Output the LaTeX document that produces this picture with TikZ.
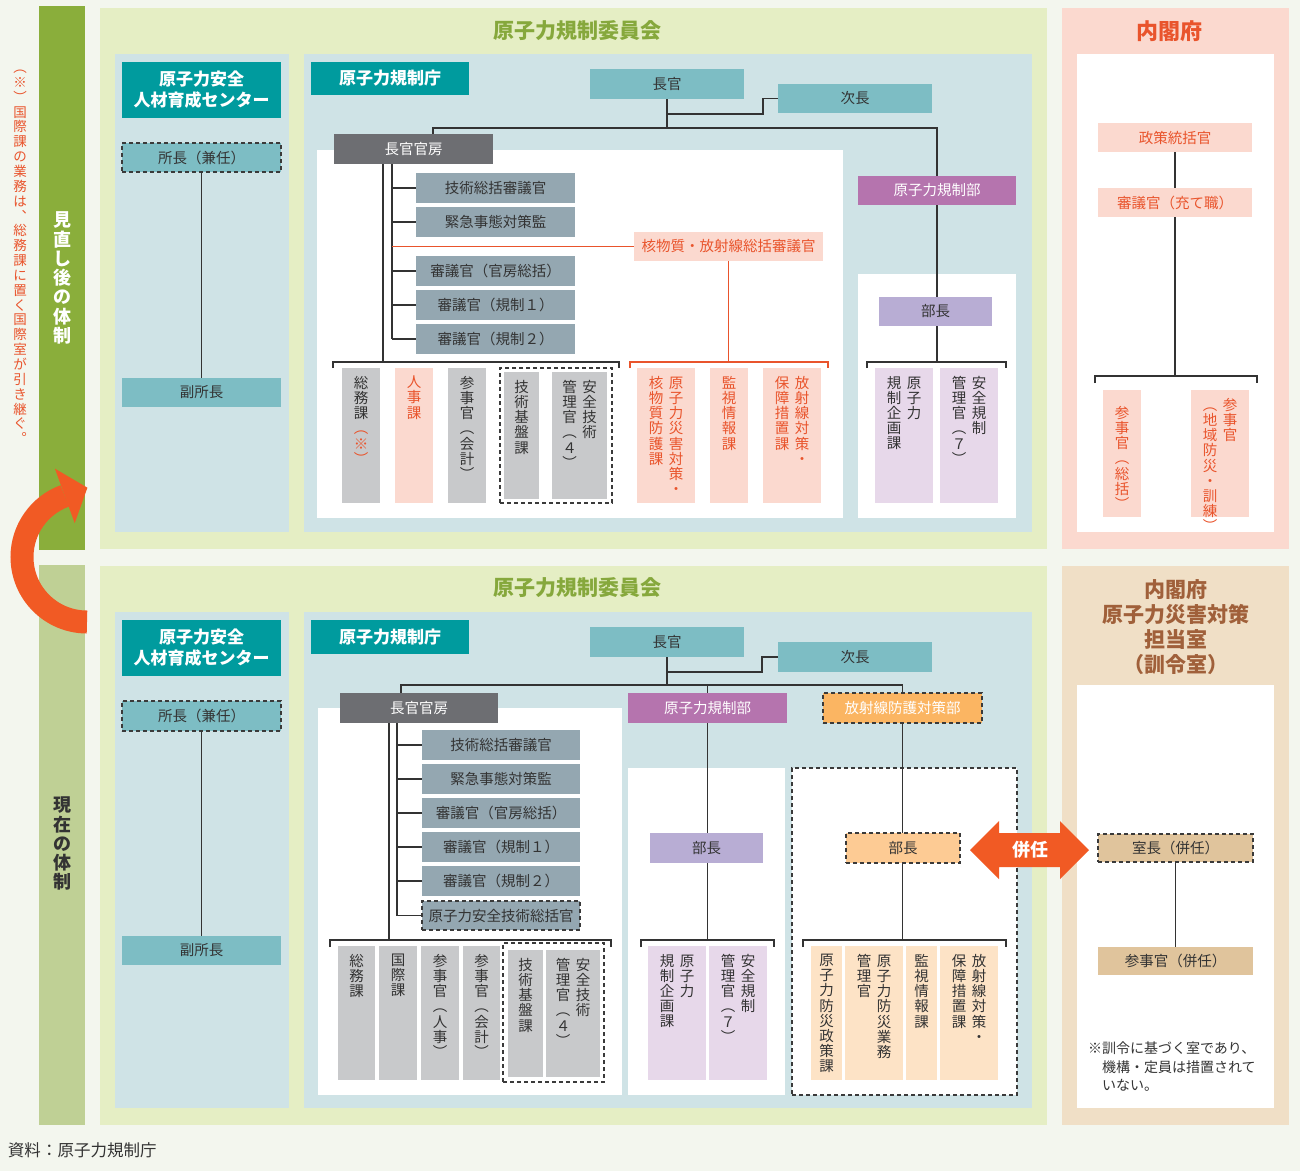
\documentclass[tikz,border=0pt]{standalone}
\usepackage{fontspec}
\setmainfont{Noto Sans CJK JP}
\usetikzlibrary{arrows.meta,calc}
\definecolor{cBg}{HTML}{F3F6EE}
\definecolor{cBarG}{HTML}{8AAE3B}
\definecolor{cBarL}{HTML}{BFD095}
\definecolor{cPanG}{HTML}{E5EEC4}
\definecolor{cPanB}{HTML}{CFE3E6}
\definecolor{cTeal}{HTML}{009B9E}
\definecolor{cTealL}{HTML}{7DBDC4}
\definecolor{cGblue}{HTML}{94A7B1}
\definecolor{cDgrey}{HTML}{6D6E72}
\definecolor{cLgrey}{HTML}{C8C9CB}
\definecolor{cPink}{HTML}{FBD9CF}
\definecolor{cRed}{HTML}{E9542C}
\definecolor{cPurp}{HTML}{B574AE}
\definecolor{cLav}{HTML}{B8ADD4}
\definecolor{cLpurp}{HTML}{E7D8EA}
\definecolor{cOrng}{HTML}{FBB562}
\definecolor{cLorng}{HTML}{FDCB94}
\definecolor{cPeach}{HTML}{FDE3C6}
\definecolor{cBeige}{HTML}{F0DFC6}
\definecolor{cTan}{HTML}{E0C49C}
\definecolor{cBrown}{HTML}{A0603A}
\definecolor{cTitleG}{HTML}{86A83C}
\definecolor{cTxt}{HTML}{333333}
\definecolor{cLn}{HTML}{333333}
\definecolor{cDash}{HTML}{3A3A3A}
\definecolor{cArr}{HTML}{F15A24}
\newcommand\fsz[1]{\fontsize{#1}{#1}\selectfont}
\def\vtred{}
\def\vtpre{}
\def\vtloop#1{\ifx#1\relax\else\ifx#1\vtred\gdef\vtpre{\color{cRed}}\else\hbox to 1em{\hss\vtpre#1\hss}\fi\expandafter\vtloop\fi}
\newcommand\vcol[2][1.05]{\vtop{\gdef\vtpre{}\baselineskip=#1em\lineskiplimit=-100pt\lineskip=0pt\vtloop#2\relax}}
\newcommand\vtwo[2]{\hbox{\vcol{#2}\kern5.5pt\vcol{#1}}}
\tikzset{
  R/.style={inner sep=0pt, outer sep=0pt},
  rc/.style n args={4}{minimum width={#3-#1}, minimum height={#4-#2}, at={({(#1+#3)/2},{(#2+#4)/2})}},
  hb/.style={R, text=cTxt, font=\fsz{14.5}},
  dsh/.style={draw=cDash, line width=1.3pt, dash pattern=on 4pt off 3pt},
  ln/.style={draw=cLn, line width=1.4pt},
  lnr/.style={draw=cRed, line width=1.4pt},
}
\newcommand\vb[8]{\node[R, fill=#2, rc={#4}{#5}{#6}{#7}] (#1) {};
  \node[R, anchor=north, text=#3, font=\fsz{14.5}] (#1t) at ([yshift=-8pt]#1.north) {#8};}
\begin{document}
\begin{tikzpicture}[x=1pt,y=-1pt]
\fill[cBg] (0,0) rectangle (1300,1171);
\useasboundingbox (0,0) rectangle (1300,1171);
% ---------- side bars
\node[R, fill=cBarG, rc={39}{6}{85}{550}] (barTop) {};
\node[R, fill=cBarL, rc={39}{565}{85}{1125}] (barBot) {};
\node[R, anchor=north, text=white, font=\fsz{18}\bfseries] (barTopT) at (62,212) {\vcol[1.07]{見直し後の体制}};
\node[R, anchor=north, text=cTxt, font=\fsz{18}\bfseries] (barBotT) at (62,797) {\vcol[1.07]{現在の体制}};
\node[R, anchor=north, text=cRed, font=\fsz{13.5}] (sideNote) at (20,70) {\vcol[1.10]{︵※︶国際課の業務は︑総務課に置く国際室が引き継ぐ︒}};
% ================= TOP SECTION
\node[R, fill=cPanG, rc={100}{8}{1047}{549}] (tPan) {};
\node[R, text=cTitleG, font=\fsz{21}\bfseries] (tTitle) at (577,31) {原子力規制委員会};
\node[R, fill=cPanB, rc={115}{54}{289}{532}] (tCen) {};
\node[R, fill=cPanB, rc={304}{54}{1032}{532}] (tAg) {};
\node[R, fill=white, rc={317}{150}{843}{518}] (tWa) {};
\node[R, fill=white, rc={858}{274}{1016}{518}] (tWb) {};
\node[R, fill=cPink, rc={1062}{8}{1289}{549}] (tCab) {};
\node[R, text=cRed, font=\fsz{22}\bfseries] (tCabT) at (1169,31) {内閣府};
\node[R, fill=white, rc={1077}{54}{1274}{532}] (tCabW) {};
% center
\node[R, fill=cTeal, text=white, font=\fontsize{17}{21}\selectfont\bfseries, align=center, rc={122}{62}{281}{118}] (tCenT) {原子力安全\\人材育成センター};
\node[hb, fill=cTealL, dsh, rc={122}{143}{281}{172}] (tSho) {所長（兼任）};
\node[hb, fill=cTealL, rc={122}{378}{281}{407}] (tFuku) {副所長};
\draw[ln] (tSho) -- (tFuku);
% agency coordinates
\coordinate (tJL) at (433,128);
\coordinate (tJB) at (763,114);
\coordinate (tBrA) at (383,362);
\coordinate (tVx) at (392,164);
\coordinate (tBa1) at (333,362); \coordinate (tBa2) at (619,362);
\coordinate (tBb1) at (630,362); \coordinate (tBb2) at (828,362);
\coordinate (tBc1) at (867,362); \coordinate (tBc2) at (1006,362);
\coordinate (tBd1) at (1095,376); \coordinate (tBd2) at (1257,376);
% agency nodes
\node[R, fill=cTeal, text=white, font=\fsz{17}\bfseries, rc={311}{62}{469}{95}] (tAgT) {原子力規制庁};
\node[hb, fill=cTealL, rc={590}{69}{744}{99}] (tCho) {長官};
\node[hb, fill=cTealL, rc={778}{84}{932}{113}] (tJi) {次長};
\node[hb, fill=cDgrey, text=white, rc={334}{134}{493}{164}] (tKan) {長官官房};
\node[hb, fill=cPurp, text=white, rc={858}{176}{1016}{205}] (tKb) {原子力規制部};
\draw[ln] (tCho.south) -- (tCho.south |- tJL);
\draw[ln] (tKan.north -| tJL) -- (tJL) -- (tKb.north |- tJL) -- (tKb.north);
\draw[ln] (tCho.south |- tJB) -- (tJB) |- (tJi.west);
\draw[ln] (tKan.south -| tBrA) -- (tBrA);
\node[hb, fill=cGblue, rc={416}{173}{575}{203}] (tK1) {技術総括審議官};
\node[hb, fill=cGblue, rc={416}{207}{575}{237}] (tK2) {緊急事態対策監};
\node[hb, fill=cGblue, rc={416}{256}{575}{286}] (tK3) {審議官（官房総括）};
\node[hb, fill=cGblue, rc={416}{290}{575}{320}] (tK4) {審議官（規制１）};
\node[hb, fill=cGblue, rc={416}{324}{575}{354}] (tK5) {審議官（規制２）};
\node[hb, fill=cPink, text=cRed, rc={634}{232}{823}{261}] (tKaku) {核物質・放射線総括審議官};
\draw[ln] (tVx) -- (tVx |- tK5.west);
\foreach \n in {tK1,tK2,tK3,tK4,tK5} \draw[ln] (tVx |- \n.west) -- (\n.west);
\draw[lnr] (tVx |- tKaku.west) -- (tKaku.west);
\draw[lnr] (tKaku.south) -- (tKaku.south |- tBb1);
\draw[ln] ([yshift=-6pt]tBa1) -- (tBa1) -- (tBa2) -- ([yshift=-6pt]tBa2);
\draw[lnr] ([yshift=-6pt]tBb1) -- (tBb1) -- (tBb2) -- ([yshift=-6pt]tBb2);
\draw[ln] (tKb.south) -- (tKb.south |- tBc1);
\node[hb, fill=cLav, rc={879}{297}{992}{326}] (tKbB) {部長};
\draw[ln] ([yshift=-6pt]tBc1) -- (tBc1) -- (tBc2) -- ([yshift=-6pt]tBc2);
% vertical boxes top
\vb{tV1}{cLgrey}{cTxt}{342}{368}{380}{503}{\vcol{総務課\vtred︵※︶}}
\vb{tV2}{cPink}{cRed}{395}{368}{433}{503}{\vcol{人事課}}
\vb{tV3}{cLgrey}{cTxt}{448}{368}{486}{503}{\vcol{参事官︵会計︶}}
\node[R, dsh, rc={500}{368}{612}{503}] (tGrp) {};
\vb{tV4}{cLgrey}{cTxt}{504}{372}{539}{499}{\vcol{技術基盤課}}
\vb{tV5}{cLgrey}{cTxt}{552}{372}{607}{499}{\vtwo{安全技術}{管理官︵４︶}}
\vb{tV6}{cPink}{cRed}{637}{368}{695}{503}{\vtwo{原子力災害対策・}{核物質防護課}}
\vb{tV7}{cPink}{cRed}{710}{368}{748}{503}{\vcol{監視情報課}}
\vb{tV8}{cPink}{cRed}{763}{368}{821}{503}{\vtwo{放射線対策・}{保障措置課}}
\vb{tV9}{cLpurp}{cTxt}{875}{368}{933}{503}{\vtwo{原子力}{規制企画課}}
\vb{tV10}{cLpurp}{cTxt}{940}{368}{998}{503}{\vtwo{安全規制}{管理官︵７︶}}
% cabinet top
\node[hb, fill=cPink, text=cRed, rc={1098}{123}{1252}{152}] (tSei) {政策統括官};
\node[hb, fill=cPink, text=cRed, rc={1098}{188}{1252}{217}] (tShin) {審議官（充て職）};
\draw[ln] (tSei) -- (tShin);
\draw[ln] (tShin.south) -- (tShin.south |- tBd1);
\draw[ln] ([yshift=-7pt]tBd1) -- (tBd1) -- (tBd2) -- ([yshift=-7pt]tBd2);
\node[R, fill=cPink, rc={1103}{390}{1141}{517}] (tC1) {};
\node[R, anchor=north, text=cRed, font=\fsz{14.5}] (tC1t) at ([yshift=-16pt]tC1.north) {\vcol{参事官︵総括︶}};
\vb{tC2}{cPink}{cRed}{1191}{390}{1249}{517}{\vtwo{参事官}{︵地域防災・訓練︶}}
% ================= BOTTOM SECTION
\node[R, fill=cPanG, rc={100}{566}{1047}{1125}] (bPan) {};
\node[R, text=cTitleG, font=\fsz{21}\bfseries] (bTitle) at (577,588) {原子力規制委員会};
\node[R, fill=cPanB, rc={115}{612}{289}{1108}] (bCen) {};
\node[R, fill=cPanB, rc={304}{612}{1032}{1108}] (bAg) {};
\node[R, fill=white, rc={318}{708}{622}{1095}] (bWa) {};
\node[R, fill=white, rc={628}{768}{785}{1095}] (bWb) {};
\node[R, fill=white, dsh, rc={792}{768}{1017}{1095}] (bWc) {};
\node[R, fill=cBeige, rc={1062}{566}{1289}{1125}] (bCab) {};
\node[R, text=cBrown, font=\fontsize{21}{25}\selectfont\bfseries, align=center] (bCabT) at (1176,627) {内閣府\\原子力災害対策\\担当室\\（訓令室）};
\node[R, fill=white, rc={1077}{685}{1274}{1108}] (bCabW) {};
% center
\node[R, fill=cTeal, text=white, font=\fontsize{17}{21}\selectfont\bfseries, align=center, rc={122}{620}{281}{676}] (bCenT) {原子力安全\\人材育成センター};
\node[hb, fill=cTealL, dsh, rc={122}{701}{281}{731}] (bSho) {所長（兼任）};
\node[hb, fill=cTealL, rc={122}{936}{281}{965}] (bFuku) {副所長};
\draw[ln] (bSho) -- (bFuku);
% coordinates
\coordinate (bJL) at (401,685);
\coordinate (bJB) at (762,672);
\coordinate (bBrA) at (389,940);
\coordinate (bVx) at (397,723);
\coordinate (bBa1) at (330,940); \coordinate (bBa2) at (611,940);
\coordinate (bBb1) at (641,940); \coordinate (bBb2) at (774,940);
\coordinate (bBc1) at (803,940); \coordinate (bBc2) at (1006,940);
% agency nodes
\node[R, fill=cTeal, text=white, font=\fsz{17}\bfseries, rc={311}{620}{469}{654}] (bAgT) {原子力規制庁};
\node[hb, fill=cTealL, rc={590}{627}{744}{657}] (bCho) {長官};
\node[hb, fill=cTealL, rc={778}{642}{932}{672}] (bJi) {次長};
\node[hb, fill=cDgrey, text=white, rc={340}{693}{498}{723}] (bKan) {長官官房};
\node[hb, fill=cPurp, text=white, rc={628}{693}{787}{723}] (bKb) {原子力規制部};
\node[hb, fill=cOrng, text=white, dsh, rc={823}{693}{982}{723}] (bHo) {放射線防護対策部};
\draw[ln] (bCho.south) -- (bCho.south |- bJL);
\draw[ln] (bKan.north -| bJL) -- (bJL) -- (bHo.north |- bJL) -- (bHo.north);
\draw[ln] (bKb.north |- bJL) -- (bKb.north);
\draw[ln] (bCho.south |- bJB) -- (bJB) |- (bJi.west);
\draw[ln] (bKan.south -| bBrA) -- (bBrA);
\draw[ln] (bKb.south) -- (bKb.south |- bBb1);
\draw[ln] (bHo.south) -- (bHo.south |- bBc1);
\draw[ln] ([yshift=-7pt]bBa1) -- (bBa1) -- (bBa2) -- ([yshift=-7pt]bBa2);
\draw[ln] ([yshift=-7pt]bBb1) -- (bBb1) -- (bBb2) -- ([yshift=-7pt]bBb2);
\draw[ln] ([yshift=-7pt]bBc1) -- (bBc1) -- (bBc2) -- ([yshift=-7pt]bBc2);
\node[hb, fill=cGblue, rc={422}{730}{580}{760}] (bK1) {技術総括審議官};
\node[hb, fill=cGblue, rc={422}{764}{580}{794}] (bK2) {緊急事態対策監};
\node[hb, fill=cGblue, rc={422}{798}{580}{828}] (bK3) {審議官（官房総括）};
\node[hb, fill=cGblue, rc={422}{832}{580}{862}] (bK4) {審議官（規制１）};
\node[hb, fill=cGblue, rc={422}{866}{580}{896}] (bK5) {審議官（規制２）};
\node[hb, fill=cGblue, dsh, rc={422}{901}{580}{930}] (bK6) {原子力安全技術総括官};
\draw[ln] (bVx) -- (bVx |- bK6.west);
\foreach \n in {bK1,bK2,bK3,bK4,bK5,bK6} \draw[ln] (bVx |- \n.west) -- (\n.west);
\node[hb, fill=cLav, rc={650}{833}{763}{863}] (bKbB) {部長};
\node[hb, fill=cLorng, dsh, rc={846}{833}{960}{863}] (bHoB) {部長};
% vertical boxes bottom
\vb{bV1}{cLgrey}{cTxt}{338}{946}{375}{1080}{\vcol{総務課}}
\vb{bV2}{cLgrey}{cTxt}{379}{946}{417}{1080}{\vcol{国際課}}
\vb{bV3}{cLgrey}{cTxt}{421}{946}{459}{1080}{\vcol{参事官︵人事︶}}
\vb{bV4}{cLgrey}{cTxt}{463}{946}{500}{1080}{\vcol{参事官︵会計︶}}
\node[R, dsh, rc={503}{943}{604}{1082}] (bGrp) {};
\vb{bV5}{cLgrey}{cTxt}{508}{950}{543}{1077}{\vcol{技術基盤課}}
\vb{bV6}{cLgrey}{cTxt}{546}{950}{600}{1077}{\vtwo{安全技術}{管理官︵４︶}}
\vb{bV7}{cLpurp}{cTxt}{648}{946}{706}{1080}{\vtwo{原子力}{規制企画課}}
\vb{bV8}{cLpurp}{cTxt}{709}{946}{767}{1080}{\vtwo{安全規制}{管理官︵７︶}}
\vb{bV9}{cPeach}{cTxt}{811}{946}{842}{1080}{\vcol{原子力防災政策課}}
\vb{bV10}{cPeach}{cTxt}{845}{946}{903}{1080}{\vtwo{原子力防災業務}{管理官}}
\vb{bV11}{cPeach}{cTxt}{906}{946}{937}{1080}{\vcol{監視情報課}}
\vb{bV12}{cPeach}{cTxt}{940}{946}{998}{1080}{\vtwo{放射線対策・}{保障措置課}}
% cabinet bottom
\node[hb, fill=cTan, dsh, rc={1098}{834}{1253}{862}] (bShi) {室長（併任）};
\node[hb, fill=cTan, rc={1098}{947}{1253}{975}] (bSan) {参事官（併任）};
\draw[ln] (bShi) -- (bSan);
\node[R, anchor=north west, text=cTxt, font=\fontsize{14}{18.5}\selectfont, align=left] (bNote) at (1088,1042) {※訓令に基づく室であり、\\\hspace*{1em}機構・定員は措置されて\\\hspace*{1em}いない。};
% double arrow
\fill[cArr] (970,850) -- (999,821) -- (999,833) -- (1060,833) -- (1060,821) -- (1089,850) -- (1060,879) -- (1060,867) -- (999,867) -- (999,879) -- cycle;
\node[R, text=white, font=\fsz{18}\bfseries] (heinin) at (1030,850) {併任};
% curved arrow
\draw[cArr, line width=23pt] (87,622) arc[start angle=90, end angle=250, radius=65];
\fill[cArr] (74.7,523.2) -- (87.4,487.7) -- (54.9,468.6) -- cycle;
% source
\node[R, anchor=west, text=cTxt, font=\fsz{16.5}] (src) at (8,1150) {資料：原子力規制庁};
\end{tikzpicture}
\end{document}
